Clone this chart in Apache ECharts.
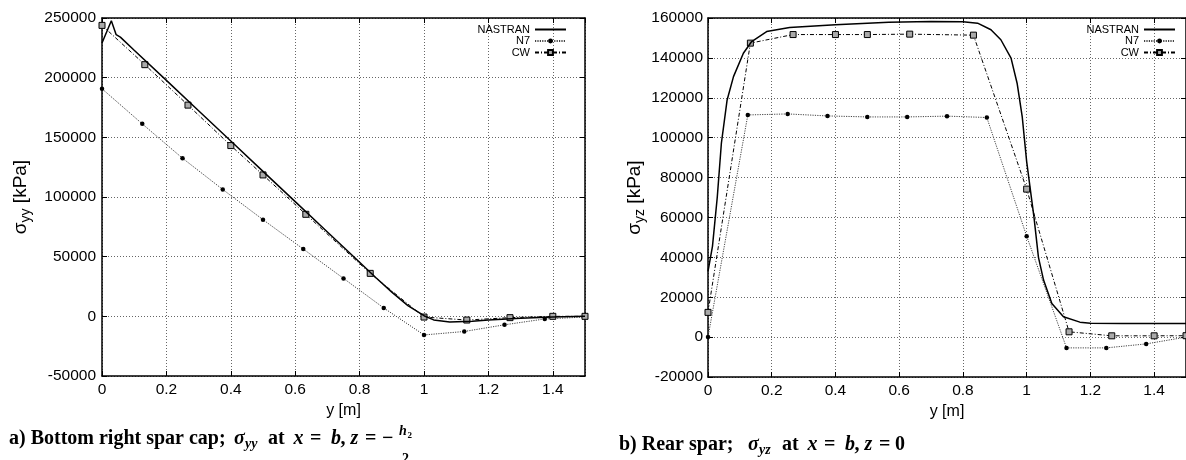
<!DOCTYPE html>
<html><head><meta charset="utf-8">
<script src="https://cdn.jsdelivr.net/npm/echarts@6/dist/echarts.min.js"></script>
<style>html,body{margin:0;padding:0;background:#fff}#c{width:1186px;height:460px}</style>
</head><body><div id="c"></div>
<script>
// ---------------- data ----------------
const legendNames = ['NASTRAN', 'N7', 'CW'];

// a) Bottom right spar cap, sigma_yy [kPa] vs y [m]
const aNastranY = [0, 0.029, 0.044, 0.057, 0.1, 0.2, 0.3, 0.4, 0.5, 0.6, 0.7, 0.8, 0.85, 0.9, 0.95, 1.0, 1.03, 1.08, 1.15, 1.2, 1.3, 1.4, 1.5];
const aNastranS = [229000, 247700, 236000, 234000, 223000, 197700, 172300, 146900, 121500, 96100, 70700, 45300, 32600, 20300, 9000, 500, -3000, -4800, -4200, -3000, -1600, -600, 0];
const aN7Y = [0, 0.125, 0.25, 0.375, 0.5, 0.625, 0.75, 0.875, 1.0, 1.125, 1.25, 1.375, 1.5];
const aN7S = [190700, 161300, 132500, 106300, 81000, 56400, 31800, 7000, -15600, -12700, -7100, -2200, -600];
const aCWY = [0, 0.133, 0.267, 0.4, 0.5, 0.633, 0.833, 1.0, 1.133, 1.267, 1.4, 1.5];
const aCWS = [243800, 210900, 177000, 143100, 118500, 85500, 36000, -600, -3100, -1100, 0, 0];

// b) Rear spar, sigma_yz [kPa] vs y [m]
const bNastranY = [0, 0.014, 0.029, 0.042, 0.06, 0.08, 0.111, 0.137, 0.184, 0.256, 0.4, 0.567, 0.7, 0.8, 0.846, 0.888, 0.919, 0.951, 0.97, 0.986, 1.0, 1.023, 1.037, 1.053, 1.079, 1.1155, 1.167, 1.2, 1.3, 1.5];
const bNastranS = [33000, 45500, 70000, 97200, 118900, 130600, 142300, 148200, 153200, 155200, 156600, 157900, 158200, 158100, 157400, 154100, 149100, 139900, 127300, 110600, 88000, 60000, 40000, 28600, 16900, 10200, 7500, 7000, 6800, 6800];
const bN7Y = [0, 0.125, 0.25, 0.375, 0.5, 0.625, 0.75, 0.875, 1.0, 1.125, 1.25, 1.375, 1.5];
const bN7S = [0, 111400, 111900, 110900, 110400, 110400, 110800, 110100, 50600, -5400, -5400, -3400, 0];
const bCWY = [0, 0.133, 0.267, 0.4, 0.5, 0.633, 0.833, 1.0, 1.133, 1.267, 1.4, 1.5];
const bCWS = [12400, 147400, 151700, 151700, 151700, 151900, 151400, 74200, 2660, 650, 650, 700];

// ---------------- layout / style ----------------
const SANS = '"Liberation Sans", Arial, Helvetica, sans-serif';
const SERIF = '"Liberation Serif", "Times New Roman", serif';
const zip = (xs, ys) => xs.map((x, i) => [x, ys[i]]);

function xAxes(gi) {
  const common = {
    type: 'value', gridIndex: gi, min: 0, max: 1.5, interval: 0.2,
    axisLine: { show: true, onZero: false, lineStyle: { color: '#000', width: 1.5 } },
    axisTick: { show: true, inside: true, length: 5, lineStyle: { color: '#000', width: 1 } },
    minorTick: { show: false }
  };
  return [
    Object.assign({}, common, {
      position: 'bottom',
      name: 'y [m]', nameLocation: 'middle', nameGap: 24,
      nameTextStyle: { fontSize: 16, fontFamily: SANS, color: '#000' },
      axisLabel: { show: true, margin: 6, fontSize: 15.5, fontFamily: SANS, color: '#000', showMaxLabel: false,
        formatter: v => String(Math.round(v * 10) / 10) },
      splitLine: { show: true, lineStyle: { color: '#666', width: 1, type: [1, 2] } }
    }),
    Object.assign({}, common, {
      position: 'top', axisLabel: { show: false }, splitLine: { show: false }
    })
  ];
}
function yAxes(gi, mn, mx, iv, nameRich, gap, margin) {
  const common = {
    type: 'value', gridIndex: gi, min: mn, max: mx, interval: iv,
    axisLine: { show: true, onZero: false, lineStyle: { color: '#000', width: 1.5 } },
    axisTick: { show: true, inside: true, length: 5, lineStyle: { color: '#000', width: 1 } }
  };
  return [
    Object.assign({}, common, {
      position: 'left',
      name: nameRich, nameLocation: 'middle', nameGap: gap,
      nameTextStyle: {
        color: '#000', fontFamily: SANS,
        rich: {
          m: { fontSize: 19, lineHeight: 19, verticalAlign: 'top', fontFamily: SANS, color: '#000' },
          s: { fontSize: 14, lineHeight: 14, padding: [8, 0, 0, 0], verticalAlign: 'top', fontFamily: SANS, color: '#000' }
        }
      },
      axisLabel: { show: true, margin: margin, fontSize: 15.5, fontFamily: SANS, color: '#000', formatter: v => String(v) },
      splitLine: { show: true, lineStyle: { color: '#666', width: 1, type: [1, 2] } }
    }),
    Object.assign({}, common, {
      position: 'right', axisLabel: { show: false }, splitLine: { show: false }
    })
  ];
}

function seriesFor(xi, yi, nY, nS, n7Y, n7S, cwY, cwS) {
  return [
    { name: 'NASTRAN', type: 'line', xAxisIndex: xi, yAxisIndex: yi, data: zip(nY, nS),
      symbol: 'none', itemStyle: { color: '#000' }, lineStyle: { color: '#000', width: 1.5 }, z: 5 },
    { name: 'N7', type: 'line', xAxisIndex: xi, yAxisIndex: yi, data: zip(n7Y, n7S),
      symbol: 'circle', symbolSize: 4.5, itemStyle: { color: '#000' },
      lineStyle: { color: '#444', width: 1, type: [1.2, 1.2] }, z: 4 },
    { name: 'CW', type: 'line', xAxisIndex: xi, yAxisIndex: yi, data: zip(cwY, cwS),
      symbol: 'rect', symbolSize: 6, itemStyle: { color: '#aaa', borderColor: '#000', borderWidth: 1 },
      lineStyle: { color: '#000', width: 1, type: [4, 2, 1, 2] }, z: 4 }
  ];
}

function legendAt(right) {
  return {
    data: [{ name: legendNames[0], itemStyle: { opacity: 0 } }, legendNames[1], legendNames[2]],
    orient: 'vertical', align: 'right', right: right, top: 24, padding: 0,
    itemGap: 0.5, itemWidth: 31, itemHeight: 6, selectedMode: false,
    textStyle: { fontSize: 11, lineHeight: 11, fontFamily: SANS, color: '#000' }
  };
}

// caption pieces: [text, left x, kind]; kind: b = bold, i = bold italic, s = subscript, f* = fraction parts
const FB = 'bold 20px ' + SERIF, FI = 'italic bold 20px ' + SERIF, FS = 'italic bold 14px ' + SERIF;
function capPieces(parts, yMid) {
  return parts.map(p => {
    const kind = p[2];
    let font = FB, dy = 0;
    if (kind === 'i') font = FI;
    if (kind === 's') { font = FS; dy = 5; }
    if (kind === 'fh') { font = 'italic bold 14px ' + SERIF; dy = -8; }
    if (kind === 'f2') { font = 'bold 9px ' + SERIF; dy = -3; }
    if (kind === 'fd') { font = 'bold 14px ' + SERIF; dy = 20; }
    return { type: 'text', x: p[1], y: yMid + dy, silent: true,
      style: { text: p[0], font: font, fill: '#000', verticalAlign: 'middle', align: 'left' } };
  });
}
const capA = [
  ['a) Bottom right spar cap;', 9, 'b'], ['σ', 234, 'i'], ['yy', 245, 's'], ['at', 268, 'b'],
  ['x', 293.5, 'i'], ['=', 310, 'b'], ['b', 331, 'i'], [',', 340.5, 'b'], ['z', 350.5, 'i'],
  ['=', 365, 'b'], ['−', 382, 'b'], ['h', 399, 'fh'], ['2', 407.5, 'f2'], ['2', 402, 'fd']
];
const capB = [
  ['b) Rear spar;', 619, 'b'], ['σ', 748, 'i'], ['yz', 759, 's'], ['at', 782, 'b'],
  ['x', 807.5, 'i'], ['=', 824, 'b'], ['b', 845, 'i'], [',', 854.5, 'b'], ['z', 864.5, 'i'],
  ['=', 879, 'b'], ['0', 895, 'b']
];

const option = {
  animation: false,
  backgroundColor: '#fff',
  textStyle: { fontFamily: SANS },
  grid: [
    { left: 102, top: 18, width: 483, height: 358, containLabel: false },
    { left: 708, top: 18, width: 483, height: 359, containLabel: false }
  ],
  xAxis: [...xAxes(0), ...xAxes(1)],
  yAxis: [
    ...yAxes(0, -50000, 250000, 50000, '{m|σ}{s|yy}{m| [kPa]}', 72, 6),
    ...yAxes(1, -20000, 160000, 20000, '{m|σ}{s|yz}{m| [kPa]}', 62, 5)
  ],
  legend: [legendAt(619), legendAt(10)],
  series: [
    ...seriesFor(0, 0, aNastranY, aNastranS, aN7Y, aN7S, aCWY, aCWS),
    ...seriesFor(2, 2, bNastranY, bNastranS, bN7Y, bN7S, bCWY, bCWS)
  ],
  graphic: [...capPieces(capA, 439), ...capPieces(capB, 445)]
};
const chart = echarts.init(document.getElementById('c'), null, { renderer: 'canvas' });
chart.setOption(option);
</script></body></html>
